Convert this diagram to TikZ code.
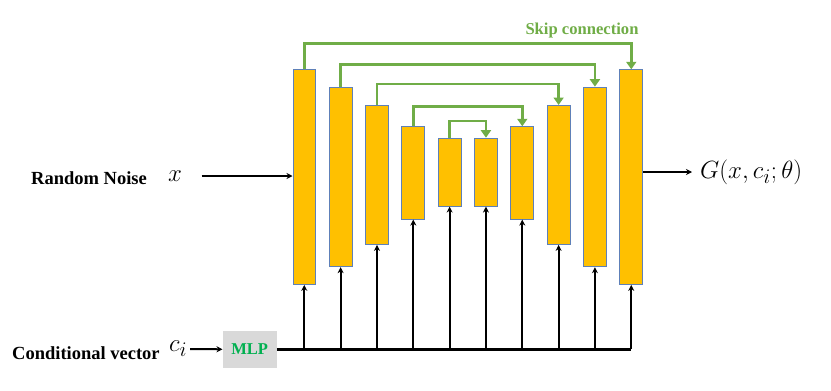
\documentclass[tikz,border=0pt]{standalone}
\usepackage{amsmath}
\usepackage{fontspec}
\setmainfont{Liberation Serif}
\usetikzlibrary{arrows.meta, positioning}
\definecolor{bargold}{HTML}{FFC000}
\definecolor{baredge}{HTML}{5E80B8}
\definecolor{skipgreen}{HTML}{70AD47}
\definecolor{mlpgreen}{HTML}{00B050}
\definecolor{mlpgray}{HTML}{D9D9D9}
\tikzstyle{arrow} = [line width=2pt, -{Stealth[length=6pt, width=6pt]}]
\tikzstyle{skip} = [line width=2.8pt, skipgreen, -{Triangle[length=7.5pt, width=10pt]}]
\tikzstyle{bus} = [line width=2.4pt]
\tikzstyle{bar} = [draw=baredge, line width=0.9pt, fill=bargold, minimum width=22.7pt, inner sep=0pt, anchor=north]
\tikzstyle{lbl} = [font=\fontsize{18.5}{20}\selectfont\bfseries, inner sep=0pt]
\tikzstyle{mathlbl} = [font=\fontsize{24.88}{28}\selectfont, inner sep=3pt]
\tikzstyle{mlpbox} = [fill=mlpgray, text=mlpgreen, font=\fontsize{16.5}{18}\selectfont\bfseries, minimum width=54pt, minimum height=36.7pt, inner sep=0pt]

\begin{document}
\begin{tikzpicture}[x=1pt, y=-1pt]
    \useasboundingbox (0,0) rectangle (831,391);
    \foreach \i/\ty/\by in {1/69.3/284, 2/86.7/266.3, 3/105/244, 4/126.3/218.7, 5/137.7/205.7,
                            6/137.7/205.7, 7/126.3/218.7, 8/105/244, 9/86.7/266.3, 10/69.3/284}
        \node[bar, minimum height={(\by-\ty)*1pt}] (b\i) at ({304.3+(\i-1)*36.33}, \ty) {};
    \foreach \i/\j/\lev in {1/10/43.3, 2/9/64.3, 3/8/84, 4/7/106.7, 5/6/121} {
        \coordinate (lev\i) at (0,\lev);
        \draw[skip] (b\i.north) |- (b\j.north |- lev\i) -- (b\j.north);
    }
    \node[lbl, text=skipgreen, font=\fontsize{16.6}{18}\selectfont\bfseries] (skiptxt) at (582,31) {Skip connection};

    \node[lbl, anchor=west] (noise) at (31,178.5) {Random Noise};
    \node[mathlbl] (xin) at (175,176) {$x$};
    \coordinate (nin) at (201.7,176);
    \draw[arrow] (nin) -- (nin -| b1.west);

    \node[mathlbl, anchor=west] (gout) at (697,172) {$G(x,c_i;\theta)$};
    \draw[arrow, shorten >=5pt] (gout.west -| b10.east) -- (gout.west);

    \node[lbl, anchor=west] (cond) at (12,353) {Conditional vector};
    \node[mlpbox] (mlp) at (249.7,349.3) {MLP};
    \node[mathlbl] (ci) at (178,349) {$c_i$};
    \draw[arrow] (ci.east) -- (mlp.west);
    \draw[bus] (mlp.east) -- (mlp.east -| b10.south);
    \foreach \i in {1,...,10}
        \draw[arrow] (mlp.east -| b\i.south) -- (b\i.south);
  \end{tikzpicture}
\end{document}
